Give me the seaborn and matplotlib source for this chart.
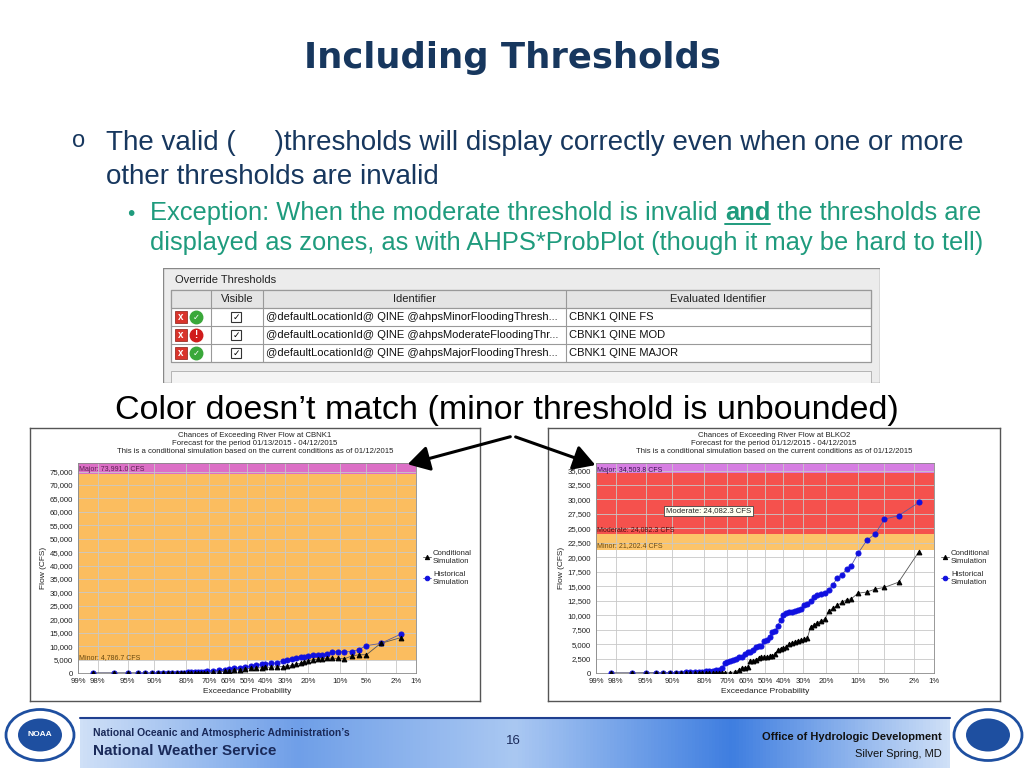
import numpy as np
import pandas as pd
import matplotlib
matplotlib.use('Agg')
import matplotlib.pyplot as plt
from matplotlib.patches import Rectangle
import seaborn as sns
from statistics import NormalDist

sns.set_theme(style='white')
plt.rcParams['font.family'] = ['Liberation Sans', 'DejaVu Sans']

# ---- data (exceedance probability in %, flow in CFS) ----
tick_probs = [99, 98, 95, 90, 80, 70, 60, 50, 40, 30, 20, 10, 5, 2, 1]
tick_labels = ['99%', '98%', '95%', '90%', '80%', '70%', '60%', '50%', '40%', '30%', '20%', '10%', '5%', '2%', '1%']

low_probs = [98.3, 96.6, 95.0, 93.4, 91.9, 90.5, 89.0, 87.6, 86.2, 84.8, 83.4, 82.0, 80.6, 79.2, 77.8, 76.4, 75.0, 73.6, 72.3]

# left chart: CBNK1
cb_cond_p = low_probs + [71, 68, 65, 62, 60, 57, 54, 51, 48, 45, 42, 40, 37, 34, 31, 29, 27, 25, 23, 21.5, 20, 18, 16.5, 15, 13.5, 12, 10.5, 9, 7.5, 6.2, 5, 3.3, 1.7]
cb_cond_q = [0] * 19 + [150, 300, 500, 700, 900, 1100, 1300, 1500, 1700, 1800, 2000, 2100, 2200, 2300, 2400, 2500, 2800, 3200, 3700, 4200, 4600, 4900, 5100, 5300, 5500, 5500, 5400, 5300, 6300, 6800, 6800, 11000, 13200]
cb_hist_p = low_probs + [71, 68, 65, 62, 60, 57, 54, 51, 48, 45, 42, 40, 37, 34, 31, 29, 27, 25, 23, 21.5, 20, 18, 16.5, 15, 13.5, 12, 10.5, 9, 7.5, 6.2, 5, 3.3, 1.7]
cb_hist_q = [0, 0, 0, 0, 0, 0, 0, 0, 0, 50, 80, 100, 150, 200, 250, 300, 350, 400, 500] + [700, 900, 1100, 1300, 1500, 1800, 2000, 2300, 2600, 2900, 3200, 3500, 3600, 3800, 4500, 4900, 5300, 5700, 6000, 6100, 6500, 6700, 6700, 6600, 7000, 8000, 8000, 7900, 8000, 8700, 10200, 11000, 14500]
cb_major = 73991.0
cb_minor = 4786.7

# right chart: BLKO2
bl_hist_p = low_probs + [71, 70, 68.5, 67, 65.5, 64, 62.5, 61, 59.5, 58, 56.5, 55, 53.5, 52, 50.5, 49, 47.5, 46, 44.5, 43, 41.5, 40, 38.5, 37, 35.5, 34, 32.5, 31, 29.5, 28, 26.5, 25, 23.5, 22, 20.5, 19, 17.5, 16, 14.5, 13, 11.8, 10, 8, 6.5, 5, 3.3, 1.7]
bl_hist_q = [0, 0, 50, 50, 60, 70, 80, 80, 100, 100, 150, 200, 250, 300, 350, 400, 500, 600, 800] + [1800, 1900, 2100, 2300, 2500, 2700, 2800, 3200, 3700, 3700, 3900, 4500, 4600, 4700, 5500, 5700, 6200, 7100, 7200, 8200, 9200, 10000, 10400, 10500, 10600, 10800, 10900, 11000, 11700, 12000, 12500, 13200, 13500, 13700, 13900, 14400, 15200, 16500, 17000, 18000, 18500, 20700, 23000, 24000, 26600, 27200, 29500]
bl_cond_p = low_probs + [71, 68.5, 66, 64, 62.5, 61, 59.5, 58, 56.5, 55, 53.5, 52, 50.5, 49, 47.5, 46, 44.5, 43, 41.5, 40, 38.5, 37, 35.5, 34, 32.5, 31, 29.5, 28, 26.5, 25, 23.5, 22, 20.5, 19, 17.5, 16, 14.5, 13, 11.8, 10, 8, 6.5, 5, 3.3, 1.7]
bl_cond_q = [0] * 19 + [0, 50, 200, 500, 800, 900, 1000, 2000, 2100, 2300, 2600, 2700, 2700, 2800, 2900, 3000, 3200, 4000, 4200, 4300, 4500, 5000, 5200, 5400, 5600, 5700, 5800, 6000, 8000, 8300, 8700, 9000, 9300, 10700, 11200, 11700, 12200, 12700, 12800, 13800, 14000, 14500, 14800, 15700, 21000]
bl_major = 34503.8
bl_moderate = 24082.3
bl_minor = 21202.4

nd = NormalDist()
def zpos(p):
    return [nd.inv_cdf(1 - v / 100.0) for v in p]

W, H = 1024, 768
fig = plt.figure(figsize=(W / 100, H / 100), dpi=100)
renderer = fig.canvas.get_renderer()

def px_axes(x, y, w, h):
    return fig.add_axes([x / W, 1 - (y + h) / H, w / W, h / H])

def ft(x, y, s, **kw):
    return fig.text(x / W, 1 - y / H, s, **kw)

navy = '#17375e'
teal = '#1f9b7d'

# ---- title and bullets ----
ft(512, 58, 'Including Thresholds', ha='center', va='center', fontsize=25.5, fontweight='bold', color=navy, family='DejaVu Sans')
ft(72, 147, 'o', ha='left', va='baseline', fontsize=17, color=navy)
ft(106, 150, 'The valid (     )thresholds will display correctly even when one or more', ha='left', va='baseline', fontsize=20, color=navy)
ft(106, 184, 'other thresholds are invalid', ha='left', va='baseline', fontsize=20, color=navy)
ft(127, 220, '\u2022', ha='left', va='baseline', fontsize=15, color=teal)
fs = 18.4
t1 = ft(150, 220, 'Exception: When the moderate threshold is invalid ', ha='left', va='baseline', fontsize=fs, color=teal)
xa = 150 + t1.get_window_extent(renderer).width
t2 = ft(xa, 220, 'and', ha='left', va='baseline', fontsize=fs, color=teal, fontweight='bold')
wa = t2.get_window_extent(renderer).width
fig.add_artist(plt.Line2D([xa / W, (xa + wa) / W], [1 - 224 / H, 1 - 224 / H], color=teal, lw=1.4))
ft(xa + wa, 220, ' the thresholds are', ha='left', va='baseline', fontsize=fs, color=teal)
ft(150, 250, 'displayed as zones, as with AHPS*ProbPlot (though it may be hard to tell)', ha='left', va='baseline', fontsize=fs, color=teal)

# ---- override thresholds table ----
tax = px_axes(163, 268, 717, 115)
tax.set_xlim(0, 717)
tax.set_ylim(115, 0)
tax.axis('off')
tax.add_patch(Rectangle((0, 0), 717, 115, facecolor='#ececec', edgecolor='#888888', lw=1))
tax.text(12, 12, 'Override Thresholds', fontsize=8, va='center', color='#222222')
cols = [8, 48, 100, 403, 708]
rows = [22, 40, 58, 76, 94]
tax.add_patch(Rectangle((8, 22), 700, 72, facecolor='white', edgecolor='#888888', lw=0.8))
tax.add_patch(Rectangle((8, 22), 700, 18, facecolor='#e4e4e4', edgecolor='#888888', lw=0.8))
for c in cols:
    tax.plot([c, c], [22, 94], color='#999999', lw=0.8)
for r in rows:
    tax.plot([8, 708], [r, r], color='#999999', lw=0.8)
headers = ['Visible', 'Identifier', 'Evaluated Identifier']
for i, h in enumerate(headers):
    tax.text((cols[i + 1] + cols[i + 2]) / 2, 31, h, ha='center', va='center', fontsize=8, color='#222222')
idents = ['@defaultLocationId@ QINE @ahpsMinorFloodingThresh...',
          '@defaultLocationId@ QINE @ahpsModerateFloodingThr...',
          '@defaultLocationId@ QINE @ahpsMajorFloodingThresh...']
evals = ['CBNK1 QINE FS', 'CBNK1 QINE MOD', 'CBNK1 QINE MAJOR']
for i in range(3):
    yc = rows[i + 1] + 9
    tax.add_patch(Rectangle((12, yc - 6), 12, 12, facecolor='#d9342b', edgecolor='#8b1a10', lw=0.5))
    tax.text(18, yc, 'x', ha='center', va='center', fontsize=7, color='white', fontweight='bold')
    if i == 1:
        tax.plot(33, yc, 'o', ms=9, color='#d01c1c')
        tax.text(33, yc, '!', ha='center', va='center', fontsize=7, color='white', fontweight='bold')
    else:
        tax.plot(33, yc, 'o', ms=9, color='#3aa83a')
        tax.text(33, yc + 0.5, '\u2713', ha='center', va='center', fontsize=6, color='white', fontweight='bold', family='DejaVu Sans')
    tax.add_patch(Rectangle((68, yc - 5), 10, 10, facecolor='white', edgecolor='#333333', lw=0.8))
    tax.text(73, yc, '\u2713', ha='center', va='center', fontsize=6.5, color='black', family='DejaVu Sans')
    tax.text(103, yc, idents[i], ha='left', va='center', fontsize=8, color='#111111')
    tax.text(406, yc, evals[i], ha='left', va='center', fontsize=8, color='#111111')
tax.add_patch(Rectangle((8, 103), 700, 12, facecolor='#f4f4f4', edgecolor='#aaaaaa', lw=0.6))

ft(507, 410, 'Color doesn\u2019t match (minor threshold is unbounded)', ha='center', va='center', fontsize=24.5, color='black')

# ---- chart panels ----
def panel(x0, w0, title, plot_x, cond_p, cond_q, hist_p, hist_q, bands, labels, ymax, ystep, ytop, tip=None):
    bg = px_axes(x0, 428, w0, 273)
    bg.set_xticks([]); bg.set_yticks([])
    for s in bg.spines.values():
        s.set_color('#555555'); s.set_linewidth(1)
    bg.set_facecolor('white')
    bg.text(0.5, 0.985, title, transform=bg.transAxes, ha='center', va='top', fontsize=5.6, linespacing=1.2, color='#222222')

    ax = px_axes(plot_x, 463, 338, 210)
    xmin, xmax = nd.inv_cdf(0.01), nd.inv_cdf(0.99)
    for lo, hi, col in bands:
        ax.axhspan(lo, hi, color=col, lw=0, zorder=0)
    for lbl, yv, col in labels:
        ax.text(xmin + 0.02, yv, lbl, fontsize=5, va='bottom', ha='left', color=col, zorder=5)
    dfc = pd.DataFrame({'x': zpos(cond_p), 'y': cond_q})
    dfh = pd.DataFrame({'x': zpos(hist_p), 'y': hist_q})
    sns.lineplot(data=dfh, x='x', y='y', ax=ax, color='#5a5aa0', lw=0.6, marker='o', ms=3.6,
                 markerfacecolor='#1010e0', markeredgecolor='#1010e0', sort=False, zorder=3, label='Historical\nSimulation')
    sns.lineplot(data=dfc, x='x', y='y', ax=ax, color='#555555', lw=0.6, marker='^', ms=3.4,
                 markerfacecolor='black', markeredgecolor='black', sort=False, zorder=4, label='Conditional\nSimulation')
    ax.set_xlim(xmin, xmax)
    ax.set_ylim(0, ytop)
    ax.set_xticks(zpos(tick_probs))
    ax.set_xticklabels(tick_labels, fontsize=5.6)
    yt = np.arange(0, ymax + 1, ystep)
    ax.set_yticks(yt)
    ax.set_yticklabels([f'{v:,.0f}' for v in yt], fontsize=5.6)
    ax.grid(True, color='#c8c8c8', lw=0.6)
    for gl in ax.get_xgridlines() + ax.get_ygridlines():
        gl.set_zorder(1)
    ax.tick_params(length=2, pad=1.5, colors='#222222')
    for s in ax.spines.values():
        s.set_color('#888888'); s.set_linewidth(0.6)
    ax.set_xlabel('Exceedance Probability', fontsize=6, labelpad=2, color='#222222')
    ax.set_ylabel('Flow (CFS)', fontsize=6, labelpad=2, color='#222222')
    h, l = ax.get_legend_handles_labels()
    ax.legend(h[::-1], l[::-1], loc='center left', bbox_to_anchor=(1.0, 0.5), frameon=False,
              fontsize=5.6, handlelength=1.0, handletextpad=0.3, labelspacing=0.8, markerscale=0.9)
    if tip:
        ax.text(tip[0], tip[1], tip[2], fontsize=5.6, ha='center', va='center', zorder=6,
                bbox=dict(boxstyle='square,pad=0.25', fc='#fffff0', ec='#444444', lw=0.6))
    return ax

panel(30, 450, 'Chances of Exceeding River Flow at CBNK1\nForecast for the period 01/13/2015 - 04/12/2015\n'
      'This is a conditional simulation based on the current conditions as of 01/12/2015',
      78, cb_cond_p, cb_cond_q, cb_hist_p, cb_hist_q,
      [(cb_minor, cb_major, '#fbbd5f'), (cb_major, 78200, '#dc6fc6')],
      [('Major: 73,991.0 CFS', cb_major + 600, '#5a2050'), ('Minor: 4,786.7 CFS', cb_minor - 200, '#6a4a10')],
      75000, 5000, 78200)

panel(548, 452, 'Chances of Exceeding River Flow at BLKO2\nForecast for the period 01/12/2015 - 04/12/2015\n'
      'This is a conditional simulation based on the current conditions as of 01/12/2015',
      596, bl_cond_p, bl_cond_q, bl_hist_p, bl_hist_q,
      [(bl_minor, bl_moderate, '#fcc46a'), (bl_moderate, bl_major, '#f5514d'), (bl_major, 36300, '#d67ee2')],
      [('Major: 34,503.8 CFS', bl_major - 150, '#3a1050'), ('Moderate: 24,082.3 CFS', bl_moderate + 150, '#501010'),
       ('Minor: 21,202.4 CFS', bl_minor + 150, '#6a4a10')],
      35000, 2500, 36300, tip=(-0.78, 28000, 'Moderate: 24,082.3 CFS'))

# arrows
for tx, ty in [(405, 465), (598, 466)]:
    fig.add_artist(matplotlib.patches.FancyArrowPatch((513 / W, 1 - 436 / H), (tx / W, 1 - ty / H),
                   transform=fig.transFigure, arrowstyle='-|>,head_length=6,head_width=3.5',
                   mutation_scale=2.2, color='black', lw=2.2))

# ---- footer ----
fax = px_axes(80, 718, 870, 50)
grad = np.linspace(0, 1, 256).reshape(1, -1)
cmap = matplotlib.colors.LinearSegmentedColormap.from_list('f', ['#cfe0f7', '#6f9fe8', '#aac8f2', '#3f7ee0', '#cfe0f7'])
fax.imshow(grad, aspect='auto', cmap=cmap, extent=[0, 1, 0, 1])
fax.axis('off')
fig.add_artist(plt.Line2D([80 / W, 950 / W], [1 - 718 / H, 1 - 718 / H], color='#1f3f8f', lw=1.5))
ft(93, 733, 'National Oceanic and Atmospheric Administration\u2019s', fontsize=7.5, fontweight='bold', color='#1a2a5a', va='center')
ft(93, 751, 'National Weather Service', fontsize=11, fontweight='bold', color='#1a2a5a', va='center')
ft(513, 741, '16', fontsize=9.5, color='#1a2a5a', ha='center', va='center')
ft(942, 737, 'Office of Hydrologic Development', fontsize=8, fontweight='bold', color='#111111', ha='right', va='center')
ft(942, 754, 'Silver Spring, MD', fontsize=8, color='#111111', ha='right', va='center')

# logos (simple circles)
for cx, cy, col in [(40, 735, '#1e4fa0'), (988, 735, '#1e4fa0')]:
    fig.add_artist(matplotlib.patches.Circle((cx / W, 1 - cy / H), 34 / W, transform=fig.transFigure,
                   facecolor='white', edgecolor=col, lw=2))
    fig.add_artist(matplotlib.patches.Circle((cx / W, 1 - cy / H), 22 / W, transform=fig.transFigure,
                   facecolor=col, edgecolor='none'))
ft(40, 735, 'NOAA', fontsize=6, fontweight='bold', color='white', ha='center', va='center')

fig.savefig('out.png', dpi=100, facecolor='white')
